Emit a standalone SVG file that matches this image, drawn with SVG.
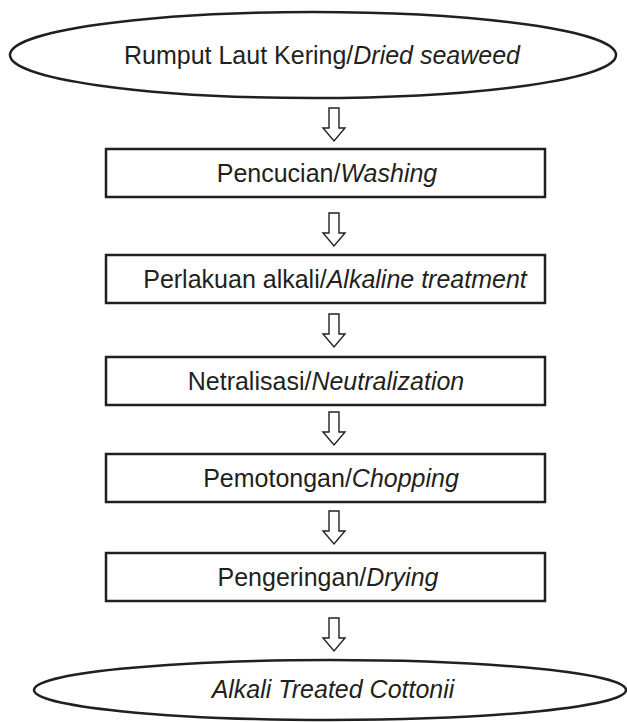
<svg xmlns="http://www.w3.org/2000/svg" width="627" height="722" viewBox="0 0 627 722">
<style>
.bg{fill:#fff}
.shape{fill:#fff;stroke:#231f20;stroke-width:2.5}
.arr{fill:#fff;stroke:#231f20;stroke-width:1.4;stroke-linejoin:miter}
text{font-family:"Liberation Sans",Arial,sans-serif;font-size:25px;fill:#231f20;text-anchor:middle}
.it{font-style:italic}
</style>
<defs>
<path id="hollow" d="M -5 0 H 5 V 20 H 11 L 0 33 L -11 20 H -5 Z"/>
</defs>
<rect class="bg" x="0" y="0" width="627" height="722"/>
<g id="connectors">
<use href="#hollow" class="arr" x="334" y="108"/>
<use href="#hollow" class="arr" x="334" y="213"/>
<use href="#hollow" class="arr" x="334" y="314"/>
<use href="#hollow" class="arr" x="334" y="412"/>
<use href="#hollow" class="arr" x="334" y="511"/>
<use href="#hollow" class="arr" x="334" y="618"/>
</g>
<g id="start">
<ellipse class="shape" cx="313" cy="55" rx="303" ry="43"/>
<text x="322" y="64">Rumput Laut Kering/<tspan class="it">Dried seaweed</tspan></text>
</g>
<g id="washing">
<rect class="shape" x="106" y="149" width="439" height="48"/>
<text x="327" y="182">Pencucian/<tspan class="it">Washing</tspan></text>
</g>
<g id="alkali">
<rect class="shape" x="106" y="255" width="439" height="48"/>
<text x="335" y="288">Perlakuan alkali/<tspan class="it">Alkaline treatment</tspan></text>
</g>
<g id="neutral">
<rect class="shape" x="106" y="357" width="439" height="48"/>
<text x="326" y="390">Netralisasi/<tspan class="it">Neutralization</tspan></text>
</g>
<g id="chopping">
<rect class="shape" x="106" y="454" width="439" height="48"/>
<text x="331" y="487">Pemotongan/<tspan class="it">Chopping</tspan></text>
</g>
<g id="drying">
<rect class="shape" x="106" y="553" width="439" height="48"/>
<text x="328" y="586">Pengeringan/<tspan class="it">Drying</tspan></text>
</g>
<g id="end">
<ellipse class="shape" cx="330" cy="690" rx="296" ry="30"/>
<text class="it" x="333" y="698">Alkali Treated Cottonii</text>
</g>
</svg>
